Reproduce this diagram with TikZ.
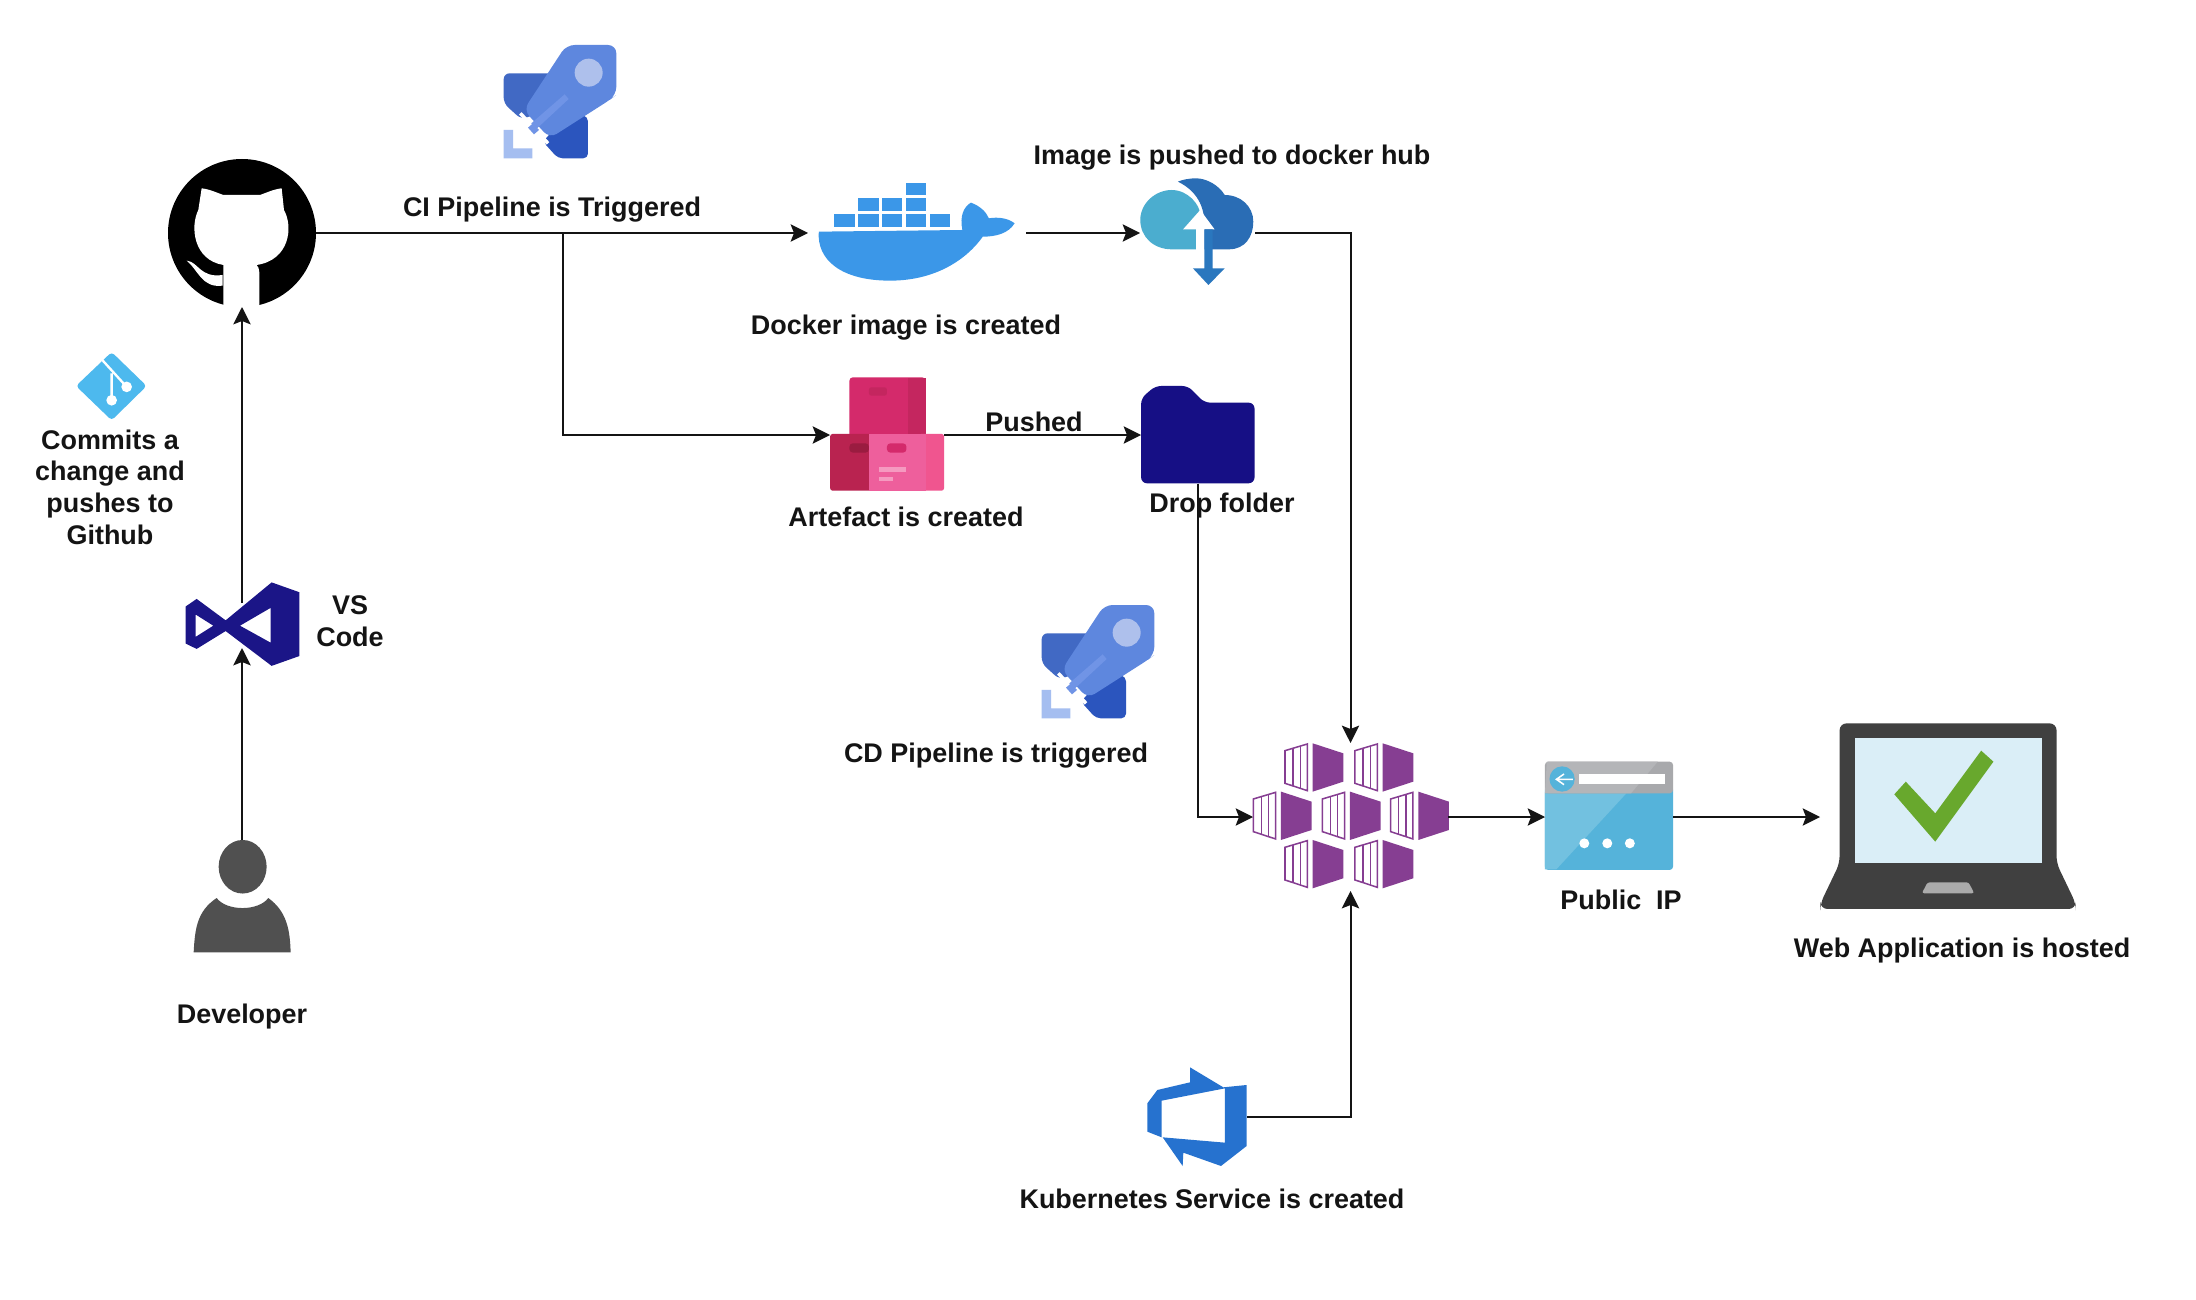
\documentclass[tikz,border=0pt]{standalone}
\usepackage{fontspec}
\setmainfont{Liberation Sans}
\usetikzlibrary{arrows.meta}
\def\px{0.03cm}
\definecolor{rockmain}{HTML}{5E87DE}
\definecolor{rockleft}{HTML}{4169C4}
\definecolor{rockbot}{HTML}{2B55BE}
\definecolor{rockdot}{HTML}{AEC0EC}
\definecolor{rockstreak}{HTML}{7094E6}
\definecolor{rockcorner}{HTML}{A5BEF0}
\definecolor{dockerblue}{HTML}{3B97E8}
\definecolor{clouddark}{HTML}{2A6DB5}
\definecolor{cloudlight}{HTML}{4BADCF}
\definecolor{cloudarrow}{HTML}{2A77BE}
\definecolor{foldernavy}{HTML}{160F85}
\definecolor{vsnavy}{HTML}{1B1587}
\definecolor{kpurple}{HTML}{863E92}
\definecolor{ipblue}{HTML}{55B3DA}
\definecolor{iplight}{HTML}{72C1E0}
\definecolor{ipgrey}{HTML}{A8A9AC}
\definecolor{ipgreylt}{HTML}{B4B5B8}
\definecolor{lapdark}{HTML}{404040}
\definecolor{lapscreen}{HTML}{DAEEF7}
\definecolor{lapcheck}{HTML}{68A82D}
\definecolor{devopsblue}{HTML}{2672CF}
\definecolor{gitblue}{HTML}{4DB9EE}
\definecolor{persongrey}{HTML}{505050}
\definecolor{artA}{HTML}{D42A6B}
\definecolor{artB}{HTML}{C4265F}
\definecolor{artC}{HTML}{B92350}
\definecolor{artD}{HTML}{EE5F9C}
\definecolor{artE}{HTML}{F0558F}
\definecolor{artF}{HTML}{F59AC0}
\definecolor{artG}{HTML}{9A1C40}
\tikzset{
  iconbox/.style={rectangle,inner sep=0pt,outer sep=0pt,draw=none},
  lbl/.style={font=\fontsize{23}{27}\selectfont\bfseries,text=black!92,align=center,inner sep=0pt},
  conn/.style={draw=black!92,line width=1.7pt,-{Stealth[length=5.2mm,width=5.2mm,inset=1mm]}},
  rocket/.pic={
    \fill[rockleft,rounded corners=5pt] (2,85) -- (150,85) -- (120,200) -- (55,223) -- (2,175) -- cycle;
    \fill[rockbot,rounded corners=4pt] (255,215) -- (255,340) -- (165,340) -- (120,290) -- (200,200) -- cycle;
    \fill[rockcorner] (2,255) -- (30,255) -- (30,310) -- (88,310) -- (88,340) -- (2,340) -- cycle;
    \draw[white,line width=3pt] (52,205) -- (135,295);
    \fill[rockmain,rounded corners=7pt] (190,0) -- (340,0) -- (340,150) -- (320,165) -- (140,280) -- (62,195) -- cycle;
    \fill[rockstreak] (85,235) -- (185,148) -- (197,162) -- (100,252) -- cycle;
    \fill[rockstreak] (75,248) -- (90,235) -- (108,255) -- (93,268) -- cycle;
    \fill[rockdot] (257,83) circle [radius=42];
  },
  kunit/.pic={
    \draw[kpurple,line width=1.3pt,fill=white] (0,22) -- (67,2) -- (67,142) -- (0,120) -- cycle;
    \draw[kpurple,line width=1.3pt] (24,15) -- (24,127) (46,9) -- (46,135);
    \fill[kpurple] (83,0) -- (175,30) -- (175,115) -- (83,145) -- cycle;
  }
}
\begin{document}
\begin{tikzpicture}[x=0.03cm,y=-0.03cm]
\useasboundingbox (0,0) rectangle (2196,1300);
\fill[white] (0,0) rectangle (2196,1300);

% GitHub
\node[circle,fill=black,inner sep=0pt,outer sep=0pt,minimum size=148*\px] (github) at (242,233) {};
\begin{scope}[shift={(130,20)},scale=0.3333]
  \fill[white] (215,505) .. controls (240,508) and (260,518) .. (280,525) -- (390,525)
     .. controls (410,518) and (430,508) .. (455,505) -- (462,570)
     .. controls (490,620) and (480,720) .. (380,735)
     .. controls (390,745) and (388,760) .. (388,790) -- (388,872) -- (280,872) -- (280,735)
     .. controls (190,720) and (180,620) .. (205,570) -- cycle;
  \fill[white] (170,722) .. controls (205,725) and (210,775) .. (278,765) -- (278,797)
     .. controls (215,805) and (205,750) .. (170,722) -- cycle;
\end{scope}

% rockets
\pic[scale=0.3333] at (503,45) {rocket};
\pic[scale=0.3333] at (1041,605) {rocket};

% Docker
\node[iconbox,minimum width=218*\px,minimum height=100*\px] (docker) at (917,233) {};
\begin{scope}[shift={(780,130)},xscale=0.408,yscale=0.3333]
  \fill[dockerblue] (95,305) -- (447,300) .. controls (440,260) and (450,230) .. (468,218)
     .. controls (490,228) and (505,245) .. (512,265) .. controls (535,260) and (560,265) .. (575,280)
     .. controls (560,310) and (530,320) .. (497,320) .. controls (450,400) and (370,452) .. (270,452)
     .. controls (150,452) and (90,390) .. (95,305) -- cycle;
  \foreach \bx in {133,192,250,309,367} \fill[dockerblue] (\bx,253) rectangle ++(50,37);
  \foreach \bx in {192,250,309} \fill[dockerblue] (\bx,205) rectangle ++(50,38);
  \fill[dockerblue] (309,158) rectangle ++(50,37);
\end{scope}

% Cloud
\node[iconbox,minimum width=115*\px,minimum height=100*\px] (cloud) at (1197.5,233) {};
\begin{scope}[shift={(780,130)},xscale=0.408,yscale=0.3333]
  \fill[clouddark] (1040,358) -- (1100,358) .. controls (1140,358) and (1160,320) .. (1160,275)
     .. controls (1160,230) and (1130,195) .. (1090,195) .. controls (1075,165) and (1045,145) .. (1020,145)
     .. controls (1000,145) and (985,150) .. (975,155) .. controls (1010,175) and (1040,215) .. (1040,280) -- cycle;
  \fill[cloudlight] (1020,358) -- (960,358) .. controls (915,358) and (883,320) .. (883,270)
     .. controls (883,220) and (920,180) .. (960,180) .. controls (1000,180) and (1030,225) .. (1030,255) -- (1020,300) -- cycle;
  \fill[white] (988,298) -- (1030,240) -- (1065,298) -- (1040,298) -- (1040,360) -- (1020,360) -- (1020,298) -- cycle;
  \fill[cloudarrow] (1040,298) -- (1060,298) -- (1060,415) -- (1090,415) -- (1050,465) -- (1012,415) -- (1040,415) -- cycle;
\end{scope}

% Artefact
\node[iconbox,minimum width=114*\px,minimum height=114*\px] (artefact) at (887,435) {};
\begin{scope}[shift={(780,130)},xscale=0.408,yscale=0.3333]
  \fill[artA,rounded corners=3pt] (170,742) rectangle (357,925);
  \fill[artB] (313,745) rectangle (357,912);
  \fill[artB,rounded corners=2pt] (218,772) rectangle (262,797);
  \fill[artC,rounded corners=2pt] (123,912) rectangle (225,1082);
  \fill[artE,rounded corners=2pt] (340,912) rectangle (402,1082);
  \fill[artD] (218,912) rectangle (357,1082);
  \fill[artG,rounded corners=3pt] (170,940) rectangle (218,968);
  \fill[artA,rounded corners=3pt] (262,940) rectangle (310,968);
  \fill[artF] (243,1012) rectangle (308,1025);
  \fill[artF] (243,1042) rectangle (278,1054);
\end{scope}

% Folder
\node[iconbox,minimum width=114*\px,minimum height=97*\px] (folder) at (1198,435) {};
\begin{scope}[shift={(780,130)},xscale=0.408,yscale=0.3333]
  \fill[foldernavy,rounded corners=5pt] (885,1060) -- (885,805) -- (920,768) -- (1000,768) -- (1040,818) -- (1163,818) -- (1163,1060) -- cycle;
\end{scope}

% Kubernetes
\node[iconbox,minimum width=195*\px,minimum height=148*\px] (k8s) at (1350.5,817) {};
\begin{scope}[shift={(1000,580)},scale=0.3333]
  \pic[scale=0.3333] at (855,490) {kunit};
  \pic[scale=0.3333] at (1065,490) {kunit};
  \pic[scale=0.3333] at (760,635) {kunit};
  \pic[scale=0.3333] at (967,635) {kunit};
  \pic[scale=0.3333] at (1172,635) {kunit};
  \pic[scale=0.3333] at (855,780) {kunit};
  \pic[scale=0.3333] at (1065,780) {kunit};
\end{scope}

% Public IP
\node[iconbox,minimum width=128*\px,minimum height=108*\px] (publicip) at (1609,817) {};
\begin{scope}[shift={(1520,700)},xscale=0.3827,yscale=0.3333]
  \fill[ipblue,rounded corners=3pt] (65,260) rectangle (400,510);
  \fill[iplight] (65,280) -- (278,280) -- (95,508) -- (65,508) -- cycle;
  \fill[ipgrey,rounded corners=3pt] (65,185) rectangle (400,280);
  \fill[ipgreylt] (70,185) -- (360,185) -- (290,280) -- (65,280) -- cycle;
  \fill[white] (155,222) rectangle (378,253);
  \fill[ipblue] (110,237) ellipse [x radius=33,y radius=38];
  \draw[white,line width=1.3pt] (138,238) -- (95,238) (115,222) -- (95,238) -- (115,254);
  \foreach \dx in {168,228,287} \fill[white] (\dx,430) ellipse [x radius=13,y radius=15];
\end{scope}

% Laptop
\node[iconbox,minimum width=256*\px,minimum height=186*\px] (laptop) at (1948,817) {};
\begin{scope}[shift={(1520,700)},xscale=0.3827,yscale=0.3333]
  \fill[lapdark,rounded corners=6pt] (835,70) -- (1402,70) -- (1402,490) -- (1452,610) -- (1452,627) -- (785,627) -- (785,610) -- (835,490) -- cycle;
  \fill[lapscreen] (875,113) rectangle (1365,488);
  \fill[lapcheck] (978,283) -- (1008,245) -- (1085,340) -- (1205,152) -- (1237,185) -- (1085,425) -- cycle;
  \fill[black!33,rounded corners=2pt] (1065,547) -- (1172,547) -- (1187,580) -- (1050,580) -- cycle;
\end{scope}

% Azure DevOps
\node[iconbox,minimum width=100*\px,minimum height=100*\px] (devops) at (1197,1117) {};
\begin{scope}[shift={(1020,1050)},scale=0.3333]
  \fill[devopsblue] (510,52) -- (610,112) -- (680,105) -- (680,288) -- (603,348) -- (490,308) -- (488,348) -- (428,262) -- (615,278) -- (615,115) -- (425,152) -- (425,262) -- (382,245) -- (382,160) -- (412,120) -- (510,97) -- cycle;
\end{scope}

% VS Code
\node[iconbox,minimum width=113*\px,minimum height=45*\px] (vscode) at (242,625.5) {};
\begin{scope}[shift={(20,340)},xscale=0.3333,yscale=0.4464]
  \fill[vsnavy,even odd rule] (497,597) -- (530,580) -- (617,628) -- (755,543) -- (838,565) -- (838,708) -- (755,730) -- (617,652) -- (530,692) -- (497,680) -- cycle
     (527,615) -- (527,665) -- (580,640) -- cycle
     (660,640) -- (752,600) -- (752,678) -- cycle;
  % git
  \fill[gitblue,rounded corners=3pt] (168,103) -- (275,27) -- (380,103) -- (275,180) -- cycle;
  \draw[white,line width=2pt] (247,45) -- (320,105) (275,75) -- (275,135);
  \fill[white] (275,135) ellipse [x radius=16,y radius=12];
  \fill[white] (320,105) ellipse [x radius=16,y radius=12];
  % developer
  \fill[persongrey] (668,1180) ellipse [x radius=72,y radius=60];
  \fill[persongrey] (521,1372) .. controls (525,1320) and (530,1280) .. (590,1250)
     .. controls (620,1280) and (715,1280) .. (745,1250)
     .. controls (800,1280) and (810,1320) .. (812,1372) -- cycle;
\end{scope}
\node[iconbox,minimum width=97*\px,minimum height=112*\px] (developer) at (242,896) {};

% connectors
\coordinate (branch) at (563,233);
\draw[conn] (github.east) -- (docker.west);
\draw[conn] (branch) |- (artefact.west);
\draw[conn] (docker.east) -- (cloud.west);
\draw[conn] (cloud.east) -| (k8s.north);
\draw[conn] (artefact.east) -- (folder.west);
\draw[conn] (folder.south) |- (k8s.west);
\draw[conn] (devops.east) -| (k8s.south);
\draw[conn] (k8s.east) -- (publicip.west);
\draw[conn] (publicip.east) -- (laptop.west);
\draw[conn] (developer.north) -- (vscode.south);
\draw[conn] (vscode.north) -- (github.south);

% labels
\node[lbl] (l1) at (552,210) {CI Pipeline is Triggered};
\node[lbl] (l2) at (906,328) {Docker image is created};
\node[lbl] (l3) at (1232,158) {Image is pushed to docker hub};
\node[lbl] (l4) at (906,517) {Artefact is created};
\node[lbl] (l5) at (1034,422) {Pushed};
\node[lbl] (l6) at (1222,506) {Drop folder};
\node[lbl] (l7) at (996,756) {CD Pipeline is triggered};
\node[lbl] (l8) at (1621,900) {Public\ \ IP};
\node[lbl] (l9) at (1962,951) {Web Application is hosted};
\node[lbl] (l10) at (1212,1199) {Kubernetes Service is created};
\node[lbl] (l11) at (242,1017) {Developer};
\node[lbl] (l12) at (350,621) {VS\\Code};
\node[lbl] (l13) at (110,487) {Commits a\\change and\\pushes to\\Github};
\end{tikzpicture}
\end{document}
